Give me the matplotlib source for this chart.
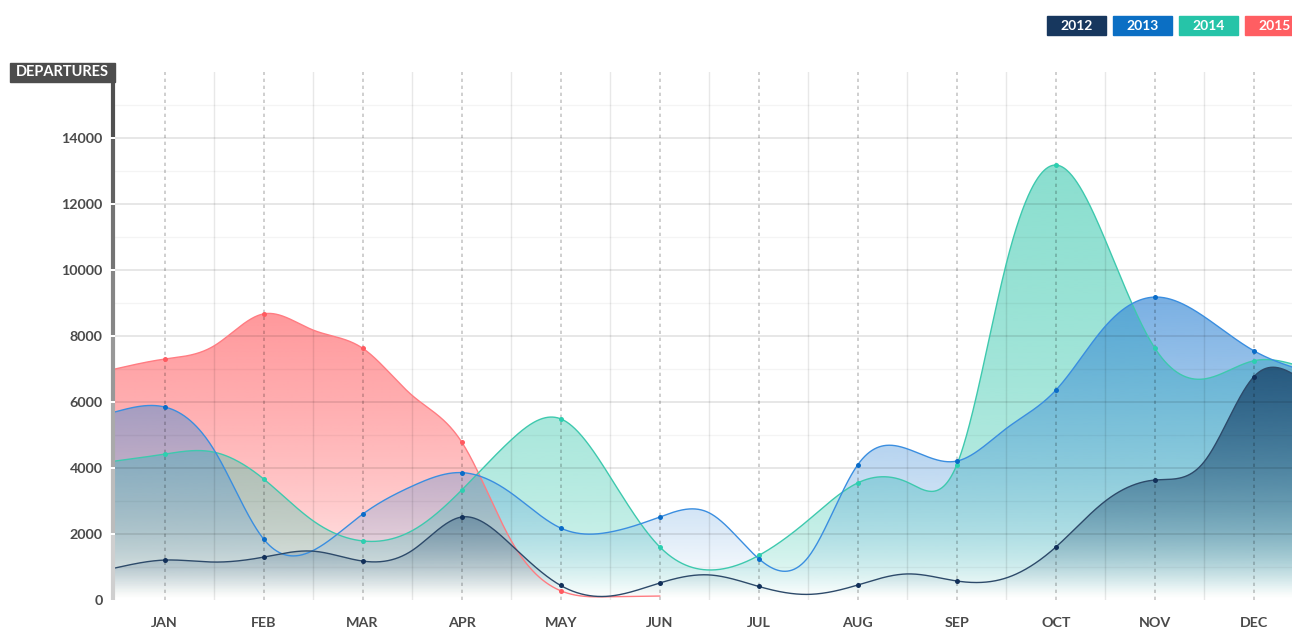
import matplotlib.pyplot as plt
import numpy as np
from matplotlib.patches import PathPatch, Rectangle
from matplotlib.colors import to_rgb

plt.rcParams['font.family'] = ['Lato', 'DejaVu Sans']

months = ['JAN', 'FEB', 'MAR', 'APR', 'MAY', 'JUN', 'JUL', 'AUG', 'SEP', 'OCT', 'NOV', 'DEC']
years = ['2012', '2013', '2014', '2015']
legend_colors = ['#17375e', '#0b6fc4', '#26c4a8', '#ff5e62']

# monthly values (the dots)
m2012 = [1210, 1300, 1180, 2515, 440, 515, 410, 455, 576, 1606, 3636, 6770]
m2013 = [5850, 1850, 2600, 3860, 2180, 2515, 1250, 4100, 4210, 6360, 9180, 7550]
m2014 = [4420, 3670, 1790, 3330, 5490, 1610, 1350, 3550, 4100, 13180, 7630, 7250]
m2015 = [7300, 8670, 7630, 4790, 280, 120]

# in-between readings of the curves: left edge, mid-months, right edge
h2012 = [970, 1150, 1480, 1500, 1670, 120, 760, 170, 790, 670, 3000, 4200, 6650]
h2013 = [5700, 4550, 1500, 3450, 3240, 2060, 2640, 1300, 4580, 5200, 8300, 8580, 6950]
h2014 = [4210, 4480, 2400, 2100, 4850, 3730, 910, 2420, 3570, 10200, 10900, 6700, 7050]
h2015 = [7000, 7700, 8180, 6200, 1800, 100]


def natural_spline(xs, ys, xnew):
    xs = np.asarray(xs, float)
    ys = np.asarray(ys, float)
    n = len(xs) - 1
    h = np.diff(xs)
    A = np.zeros((n + 1, n + 1))
    b = np.zeros(n + 1)
    A[0, 0] = 1
    A[n, n] = 1
    for i in range(1, n):
        A[i, i - 1] = h[i - 1]
        A[i, i] = 2 * (h[i - 1] + h[i])
        A[i, i + 1] = h[i]
        b[i] = 6 * ((ys[i + 1] - ys[i]) / h[i] - (ys[i] - ys[i - 1]) / h[i - 1])
    M = np.linalg.solve(A, b)
    idx = np.clip(np.searchsorted(xs, xnew) - 1, 0, n - 1)
    x0, x1 = xs[idx], xs[idx + 1]
    hh = x1 - x0
    t0 = x1 - xnew
    t1 = xnew - x0
    return (M[idx] * t0**3 / (6 * hh) + M[idx + 1] * t1**3 / (6 * hh)
            + (ys[idx] / hh - M[idx] * hh / 6) * t0
            + (ys[idx + 1] / hh - M[idx + 1] * hh / 6) * t1)


def merge(monthly, halves):
    # interleave: edge/half points at -0.5, 0.5, ... and months at 0, 1, ...
    xs, ys = [], []
    for i, hv in enumerate(halves):
        xs.append(i - 0.5)
        ys.append(hv)
        if i < len(monthly):
            xs.append(i)
            ys.append(monthly[i])
    return np.array(xs), np.array(ys, float)


fig = plt.figure(figsize=(12.92, 6.28), dpi=100)
ax = fig.add_axes([115 / 1292, 28 / 628, 1177 / 1292, 528 / 628])
XMIN, XMAX = -0.5, 11.384
YMAX = 16000


def draw_series(monthly, halves, line_c, fill_c, mark_c, a_top, p, z, nmark=None):
    xs, ys = merge(monthly, halves)
    xx = np.linspace(xs[0], xs[-1], 2000)
    yy = np.clip(natural_spline(xs, ys, xx), 0, None)
    poly = ax.fill_between(xx, 0, yy, facecolor='none', edgecolor='none')
    clip = PathPatch(poly.get_paths()[0], transform=ax.transData,
                     facecolor='none', edgecolor='none')
    ax.add_patch(clip)
    vtop = yy.max()
    vs = np.linspace(0, vtop, 600)
    img = np.zeros((600, 1, 4))
    img[..., :3] = to_rgb(fill_c)
    img[:, 0, 3] = np.clip(a_top * (vs / vtop) ** p * (1 - np.exp(-vs / 700)), 0, 1)
    im = ax.imshow(img, extent=[xs[0], xs[-1], 0, vtop], origin='lower',
                   aspect='auto', interpolation='bilinear', zorder=z)
    im.set_clip_path(clip)
    ax.plot(xx, yy, color=line_c, lw=1.0, zorder=z + 4)
    n = len(monthly) if nmark is None else nmark
    ax.plot(np.arange(n), monthly[:n], 'o', color=mark_c, ms=3.6, mec='none', zorder=10)


draw_series(m2015, h2015, '#ff7c82', '#ff5a5f', '#ff5a60', 0.62, 0.6, 2, nmark=5)
draw_series(m2014, h2014, '#3ec9ae', '#2bc4a8', '#2ccfb0', 0.55, 0.35, 3)
draw_series(m2013, h2013, '#3a8ee0', '#3a8ad6', '#0a6cc8', 0.68, 0.9, 4)
draw_series(m2012, h2012, '#2d4a6a', '#1f4d73', '#12305a', 0.88, 0.8, 5)

# grid, drawn over the translucent fills
for k in range(1, 16):
    if k % 2 == 0:
        ax.axhline(k * 1000, color='k', alpha=0.1, lw=1.3, zorder=5.5)
    else:
        ax.axhline(k * 1000, color='k', alpha=0.045, lw=1.0, zorder=5.5)
for i in range(12):
    ax.axvline(i + 0.5, color='k', alpha=0.09, lw=1.0, zorder=5.5)
    ax.axvline(i, color='k', alpha=0.22, lw=1.2, ls=(0, (2, 2.2)), zorder=5.5)

ax.set_xlim(XMIN, XMAX)
ax.set_ylim(0, YMAX)
ax.set_xticks(range(12))
ax.set_xticklabels(months)
ax.set_yticks(range(0, 16000, 2000))
ax.tick_params(length=0, labelsize=10.3, labelcolor='#4a4a4a')
ax.tick_params(axis='x', pad=12)
ax.tick_params(axis='y', pad=9)
for lab in ax.get_xticklabels() + ax.get_yticklabels():
    lab.set_fontweight('bold')
for s in ax.spines.values():
    s.set_visible(False)

# left axis bar, lighter towards the bottom
shades = np.linspace(0x50, 0xcf, 8)[::-1]
tr = ax.get_yaxis_transform()
for k in range(8):
    lo = k * 2000 + 45 if k > 0 else 0
    hi = (k + 1) * 2000 - 45 if k < 7 else 15700
    g = int(shades[k])
    ax.plot([-0.0015, -0.0015], [lo, hi], color='#%02x%02x%02x' % (g, g, g),
            lw=3.0, solid_capstyle='butt', transform=tr, clip_on=False, zorder=11)

# DEPARTURES label box
fig.patches.append(Rectangle((10 / 1292, 1 - 82 / 628), 105 / 1292, 19 / 628,
                             transform=fig.transFigure, color='#4d4d4d'))
fig.text(62 / 1292, 1 - 72.5 / 628, 'DEPARTURES', color='white', fontsize=10.5,
         fontweight='bold', ha='center', va='center')

# legend boxes
for i, (yr, c) in enumerate(zip(years, legend_colors)):
    x0 = 1047 + i * 66
    fig.patches.append(Rectangle((x0 / 1292, 1 - 35 / 628), 59 / 1292, 19 / 628,
                                 transform=fig.transFigure, color=c))
    fig.text((x0 + 29.5) / 1292, 1 - 25.5 / 628, yr, color='white', fontsize=10,
             fontweight='bold', ha='center', va='center')

plt.savefig('out.png', dpi=100)
